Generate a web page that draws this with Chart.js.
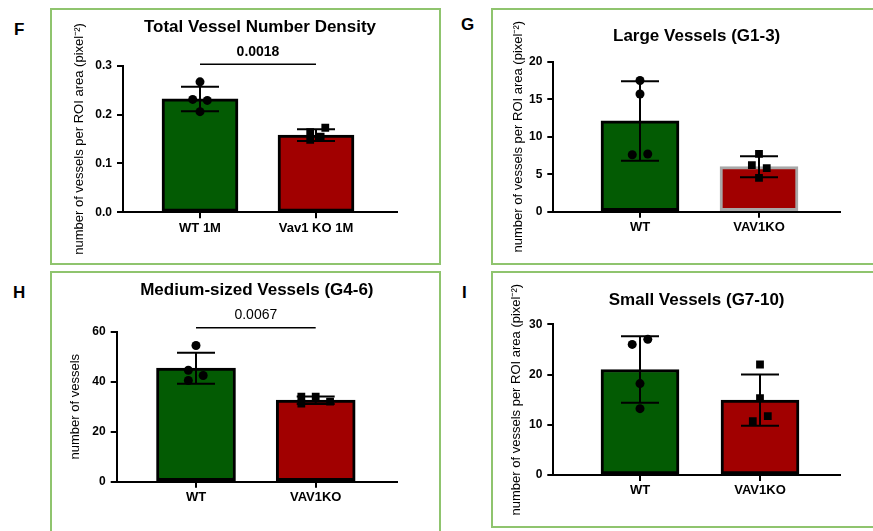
<!DOCTYPE html>
<html>
<head>
<meta charset="utf-8">
<script src="https://cdn.jsdelivr.net/npm/chart.js@4.4.0/dist/chart.umd.min.js"></script>
<style>
  html, body { margin: 0; padding: 0; background: #fff; width: 873px; height: 531px; overflow: hidden; position: relative; }
  .wrap { position: absolute; }
  .box { position: absolute; box-sizing: border-box; border: 2px solid #8fc46e; pointer-events: none; }
  .tag { position: absolute; font: bold 17px "Liberation Sans", Arial, sans-serif; line-height: 1; color: #000; }
</style>
</head>
<body>
<div class="tag" style="left:14px;top:21px">F</div>
<div class="tag" style="left:461px;top:16px">G</div>
<div class="tag" style="left:13px;top:284px">H</div>
<div class="tag" style="left:462px;top:284px">I</div>
<script>
// F - total vessel number density
const fLabels = ['WT 1M', 'Vav1 KO 1M'];
const fMean = [0.232, 0.158];
const fSD = [0.025, 0.012];
const fWT = [0.267, 0.231, 0.229, 0.206];
const fKO = [0.173, 0.164, 0.155, 0.148];
const fTicks = [0, 0.1, 0.2, 0.3];

// G - large vessels
const gLabels = ['WT', 'VAV1KO'];
const gMean = [12.1, 6.0];
const gSD = [5.3, 1.4];
const gWT = [17.5, 15.7, 7.6, 7.7];
const gKO = [7.7, 6.2, 5.8, 4.5];
const gTicks = [0, 5, 10, 15, 20];

// H - medium-sized vessels
const hLabels = ['WT', 'VAV1KO'];
const hMean = [45.4, 32.6];
const hSD = [6.2, 1.5];
const hWT = [54.5, 44.6, 42.5, 40.5];
const hKO = [34.0, 34.0, 32.0, 31.2];
const hTicks = [0, 20, 40, 60];

// I - small vessels
const iLabels = ['WT', 'VAV1KO'];
const iMean = [21.0, 14.9];
const iSD = [6.6, 5.1];
const iWT = [27.0, 26.0, 18.2, 13.2];
const iKO = [22.0, 15.3, 11.7, 10.7];
const iTicks = [0, 10, 20, 30];

const FONT = '"Liberation Sans", Arial, Helvetica, sans-serif';
const GREEN = '#035b03';
const RED = '#a10000';

const extras = {
  id: 'extras',
  afterDatasetDraw(chart, args, opts) {
    if (args.index !== 0) return;
    const { ctx } = chart;
    const x = chart.scales.x, y = chart.scales.y;
    ctx.save();
    ctx.strokeStyle = '#000';
    ctx.lineWidth = 2;
    opts.mean.forEach((m, i) => {
      const px = x.getPixelForValue(i + 1);
      const top = y.getPixelForValue(m + opts.sd[i]);
      const bot = y.getPixelForValue(m - opts.sd[i]);
      ctx.beginPath();
      ctx.moveTo(px, top); ctx.lineTo(px, bot);
      ctx.moveTo(px - opts.cap, top); ctx.lineTo(px + opts.cap, top);
      ctx.moveTo(px - opts.cap, bot); ctx.lineTo(px + opts.cap, bot);
      ctx.stroke();
    });
    ctx.restore();
  },
  afterDraw(chart, args, opts) {
    const { ctx, chartArea } = chart;
    const x = chart.scales.x, y = chart.scales.y;
    ctx.save();
    ctx.fillStyle = '#000';
    ctx.textAlign = 'center';
    ctx.textBaseline = 'middle';
    ctx.font = 'bold 17px ' + FONT;
    ctx.fillText(opts.title, (chartArea.left + chartArea.right) / 2, opts.titleY);
    if (opts.sig) {
      const s = opts.sig;
      const ly = y.getPixelForValue(s.y);
      ctx.strokeStyle = '#000';
      ctx.lineWidth = 1.5;
      ctx.beginPath();
      ctx.moveTo(x.getPixelForValue(1), ly);
      ctx.lineTo(x.getPixelForValue(2), ly);
      ctx.stroke();
      ctx.font = (s.bold ? 'bold ' : '') + '14px ' + FONT;
      ctx.fillText(s.text, (x.getPixelForValue(1) + x.getPixelForValue(2)) / 2, ly - s.gap);
    }
    ctx.restore();
  }
};

function panel(p) {
  const [left, top, W, H] = p.box;
  const wrap = document.createElement('div');
  wrap.className = 'wrap';
  Object.assign(wrap.style, { left: left + 'px', top: top + 'px', width: W + 'px', height: H + 'px' });
  const cv = document.createElement('canvas');
  wrap.appendChild(cv);
  document.body.appendChild(wrap);
  const border = document.createElement('div');
  border.className = 'box';
  Object.assign(border.style, { left: left + 'px', top: top + 'px', width: W + 'px', height: H + 'px' });
  document.body.appendChild(border);

  const a = p.area;
  const titleSize = 13;
  const padL = p.yTitleX - titleSize * 1.2 / 2;
  const yW = a.l - padL;
  const xH = 30;
  const unit = p.tickPx[1] - p.tickPx[0];
  const xMin = 1 - (p.tickPx[0] - a.l) / unit;
  const xMax = 2 + (a.r - p.tickPx[1]) / unit;

  const dots = (vals, shift, i, style, r) => ({
    type: 'scatter',
    order: 1,
    data: vals.map((v, k) => ({ x: i + 1 + shift[k], y: v })),
    pointStyle: style,
    pointRadius: r,
    pointHoverRadius: r,
    backgroundColor: '#000',
    borderColor: '#000',
    borderWidth: 0
  });

  new Chart(cv, {
    type: 'bar',
    data: {
      datasets: [
        {
          type: 'bar',
          order: 2,
          data: p.mean.map((m, i) => ({ x: i + 1, y: m })),
          backgroundColor: [GREEN, RED],
          borderColor: ['#000', p.koBorder || '#000'],
          borderWidth: 3,
          borderSkipped: false,
          barThickness: p.barW
        },
        dots(p.wt, p.wtShift, 0, 'circle', 4.5),
        dots(p.ko, p.koShift, 1, 'rect', 5.5)
      ]
    },
    options: {
      responsive: true,
      maintainAspectRatio: false,
      animation: false,
      layout: { padding: { left: padL, right: W - a.r, top: a.t, bottom: H - a.b - xH } },
      plugins: {
        legend: { display: false },
        tooltip: { enabled: false },
        extras: {
          mean: p.mean, sd: p.sd, cap: 19,
          title: p.title, titleY: p.titleY, sig: p.sig
        }
      },
      scales: {
        x: {
          type: 'linear',
          offset: false,
          min: xMin,
          max: xMax,
          afterBuildTicks: s => { s.ticks = [{ value: 1 }, { value: 2 }]; },
          afterFit: s => { s.height = xH; },
          ticks: {
            callback: v => p.labels[Math.round(v) - 1],
            font: { family: FONT, size: 13, weight: 'bold' },
            color: '#000',
            padding: 2,
            maxRotation: 0,
            autoSkip: false
          },
          grid: { display: true, offset: false, drawOnChartArea: false, drawTicks: true, tickLength: 6, color: '#000', lineWidth: 2 },
          border: { display: true, color: '#000', width: 2 }
        },
        y: {
          min: p.ticks[0],
          max: p.ticks[p.ticks.length - 1],
          afterBuildTicks: s => { s.ticks = p.ticks.map(v => ({ value: v })); },
          afterFit: s => { s.width = yW; },
          ticks: {
            callback: v => v.toFixed(p.dec),
            font: { family: FONT, size: 12, weight: 'bold' },
            color: '#000',
            padding: 5
          },
          grid: { display: true, drawOnChartArea: false, drawTicks: true, tickLength: 6, color: '#000', lineWidth: 2 },
          border: { display: true, color: '#000', width: 2 },
          title: {
            display: true,
            text: p.yTitle,
            color: '#000',
            padding: 0,
            font: { family: FONT, size: titleSize }
          }
        }
      }
    },
    plugins: [extras]
  });
}

const areaTitle = 'number of vessels per ROI area (pixel\u207B\u00B2)';

panel({
  box: [50, 8, 391, 257],
  area: { l: 73, r: 347, t: 57.7, b: 204.3 },
  tickPx: [150, 266],
  yTitleX: 29,
  barW: 76,
  labels: fLabels, mean: fMean, sd: fSD, wt: fWT, ko: fKO, ticks: fTicks, dec: 1,
  wtShift: [0, -0.063, 0.063, 0],
  koShift: [0.08, -0.05, 0.04, -0.05],
  yTitle: areaTitle,
  title: 'Total Vessel Number Density',
  titleY: 19.7,
  sig: { y: 0.303, text: '0.0018', bold: true, gap: 12.5 }
});

panel({
  box: [491, 8, 390, 257],
  area: { l: 62.3, r: 349, t: 53.7, b: 203.7 },
  tickPx: [149, 268],
  yTitleX: 27,
  barW: 78,
  koBorder: '#a8a8a8',
  labels: gLabels, mean: gMean, sd: gSD, wt: gWT, ko: gKO, ticks: gTicks, dec: 0,
  wtShift: [0, 0, -0.065, 0.065],
  koShift: [0, -0.06, 0.065, 0],
  yTitle: areaTitle,
  title: 'Large Vessels (G1-3)',
  titleY: 28.7
});

panel({
  box: [50, 271, 391, 270],
  area: { l: 66.7, r: 347, t: 60.7, b: 210.7 },
  tickPx: [146, 265.7],
  yTitleX: 25,
  barW: 79,
  labels: hLabels, mean: hMean, sd: hSD, wt: hWT, ko: hKO, ticks: hTicks, dec: 0,
  wtShift: [0, -0.064, 0.06, -0.064],
  koShift: [-0.12, 0, 0.12, -0.12],
  yTitle: 'number of vessels',
  title: 'Medium-sized Vessels (G4-6)',
  titleY: 19.7,
  sig: { y: 61.6, text: '0.0067', bold: false, gap: 12.7 }
});

panel({
  box: [491, 271, 390, 257],
  area: { l: 62.3, r: 349, t: 53.3, b: 204 },
  tickPx: [149, 269],
  yTitleX: 25.7,
  barW: 78,
  labels: iLabels, mean: iMean, sd: iSD, wt: iWT, ko: iKO, ticks: iTicks, dec: 0,
  wtShift: [0.065, -0.065, 0, 0],
  koShift: [0, 0, 0.065, -0.06],
  yTitle: areaTitle,
  title: 'Small Vessels (G7-10)',
  titleY: 29
});
</script>
</body>
</html>
